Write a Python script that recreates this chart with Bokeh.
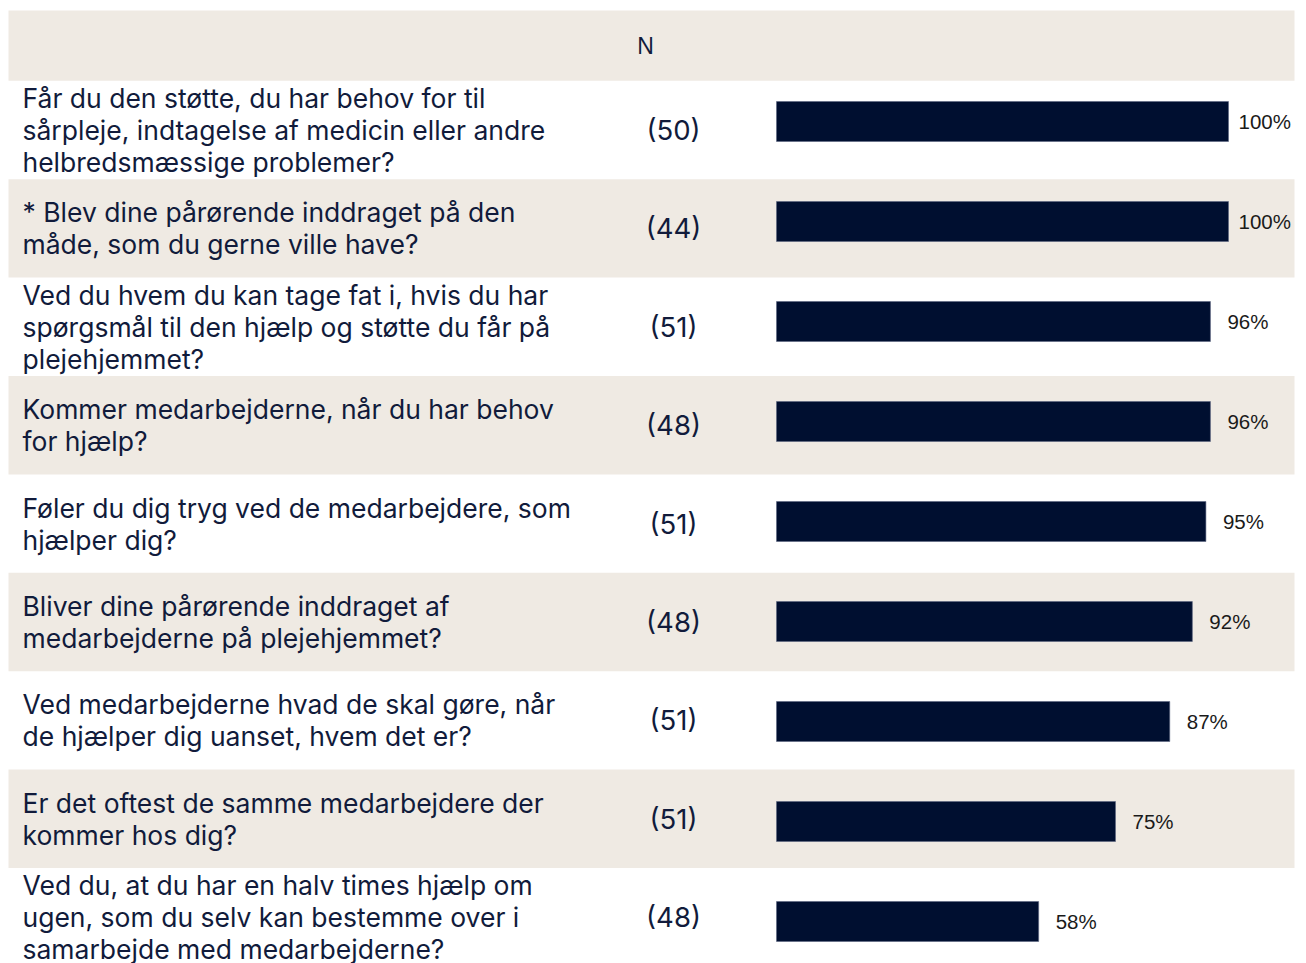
from bokeh.plotting import figure
from bokeh.models import Range1d, ColumnDataSource
from bokeh.core.properties import value
from bokeh.embed import file_html
from bokeh.resources import INLINE

questions = [
    "Får du den støtte, du har behov for til\nsårpleje, indtagelse af medicin eller andre\nhelbredsmæssige problemer?",
    "* Blev dine pårørende inddraget på den\nmåde, som du gerne ville have?",
    "Ved du hvem du kan tage fat i, hvis du har\nspørgsmål til den hjælp og støtte du får på\nplejehjemmet?",
    "Kommer medarbejderne, når du har behov\nfor hjælp?",
    "Føler du dig tryg ved de medarbejdere, som\nhjælper dig?",
    "Bliver dine pårørende inddraget af\nmedarbejderne på plejehjemmet?",
    "Ved medarbejderne hvad de skal gøre, når\nde hjælper dig uanset, hvem det er?",
    "Er det oftest de samme medarbejdere der\nkommer hos dig?",
    "Ved du, at du har en halv times hjælp om\nugen, som du selv kan bestemme over i\nsamarbejde med medarbejderne?",
]
n_values = [50, 44, 51, 48, 51, 48, 51, 51, 48]
percent = [100, 100, 96, 96, 95, 92, 87, 75, 58]
header_label = "N"

NAVY = "#000f30"
TEXT = "#111b3b"
BEIGE = "#efeae3"

W, H = 1306, 963
px_per_pct = 4.52
bar_left_px = 776
row_px = 98.4
row0_center_px = 129.5
bar_step_px = 100.0
bar0_center_px = 121.0

x0 = -bar_left_px / px_per_pct
x1 = x0 + W / px_per_pct
y_top = -row0_center_px / row_px
y_bot = y_top + H / row_px
b_top = -bar0_center_px / bar_step_px
b_bot = b_top + H / bar_step_px

p = figure(width=W, height=H, output_backend="svg", toolbar_location=None,
           x_range=Range1d(x0, x1), y_range=Range1d(y_bot, y_top),
           min_border=0, outline_line_color=None)
p.extra_y_ranges = {"bars": Range1d(b_bot, b_top)}
p.axis.visible = False
p.grid.visible = False
p.background_fill_color = "white"
p.border_fill_color = "white"

n = len(questions)
idx = list(range(n))
band_left = x0 + 8 / px_per_pct
band_right = x0 + 1294 / px_per_pct

# header band
p.quad(left=[band_left], right=[band_right], top=[y_top + 10 / row_px], bottom=[-0.5],
       fill_color=BEIGE, line_color=None)
# alternating row bands
beige_rows = [i for i in idx if i % 2 == 1]
p.quad(left=[band_left] * len(beige_rows), right=[band_right] * len(beige_rows),
       top=[i - 0.5 for i in beige_rows], bottom=[i + 0.5 for i in beige_rows],
       fill_color=BEIGE, line_color=None)

src = ColumnDataSource(dict(
    y=idx, q=questions, n=[f"({v})" for v in n_values], pct=percent,
    pct_label=[f"{v}%" for v in percent],
    off=[10 if v >= 100 else 17 for v in percent],
))

p.text(x=x0 + 22 / px_per_pct, y="y", text="q", source=src,
       text_font=value("Inter"), text_font_size="26.5px", text_color=TEXT,
       text_baseline="middle", text_align="left", text_line_height=1.0)

p.text(x=x0 + 673 / px_per_pct, y="y", text="n", source=src,
       text_font=value("Inter"), text_font_size="27.5px", text_color=TEXT,
       text_baseline="middle", text_align="center")

p.text(x=[x0 + 645 / px_per_pct], y=[y_top + 45 / row_px], text=[header_label],
       text_font=value("Liberation Sans"), text_font_size="23px", text_color=TEXT,
       text_baseline="middle", text_align="center")

p.hbar(y="y", left=0, right="pct", height=0.4, source=src, y_range_name="bars",
       fill_color=NAVY, line_color="#5a6580", line_width=0.6)

p.text(x="pct", y="y", text="pct_label", source=src, y_range_name="bars",
       x_offset="off", text_font=value("Liberation Sans"), text_font_size="20.5px",
       text_color="#1a1a1a", text_baseline="middle", text_align="left")

open("out.html", "w").write(file_html(p, INLINE))
